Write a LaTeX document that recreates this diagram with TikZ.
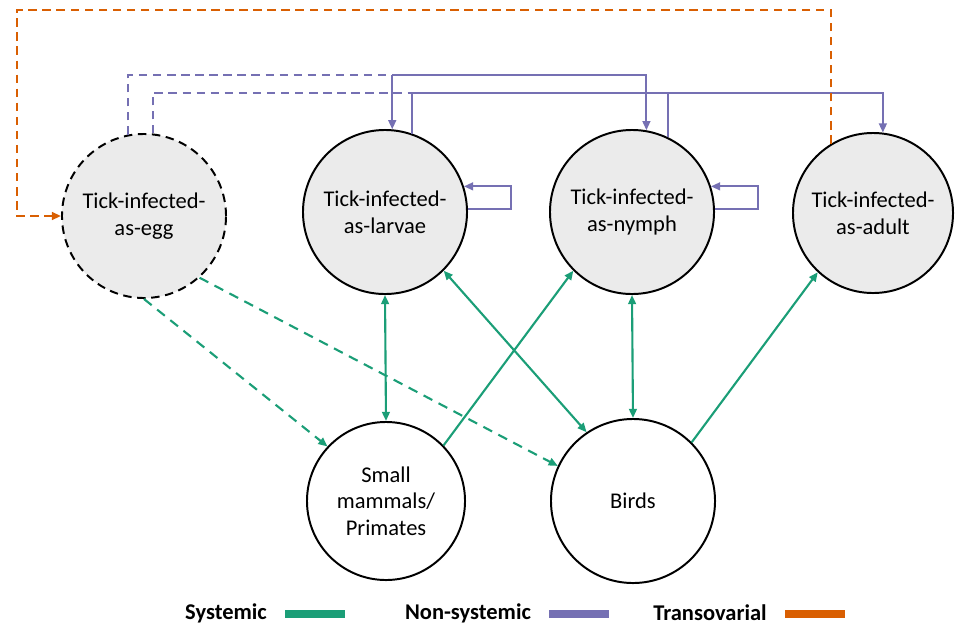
\documentclass[tikz,border=0pt]{standalone}
\usepackage{fontspec}
\setmainfont{Carlito}
\usetikzlibrary{arrows.meta}
\definecolor{sysgreen}{HTML}{1B9E77}
\definecolor{nonsyspurple}{HTML}{7570B3}
\definecolor{transorange}{HTML}{D95F02}
\definecolor{tickgray}{HTML}{EBEBEB}

\begin{document}
\begin{tikzpicture}[x=0.025cm,y=-0.025cm,
  >={Triangle[length=6.5pt,width=5.5pt]},
  stage/.style={circle,draw,line width=1.4pt,inner sep=0pt,align=center,
    minimum size=4.1cm,font=\fontsize{16}{19}\selectfont},
  tick/.style={stage,fill=tickgray},
  host/.style={stage,fill=white},
  sys/.style={draw=sysgreen,line width=1.5pt},
  nonsys/.style={draw=nonsyspurple,line width=1.4pt},
  trans/.style={draw=transorange,line width=1.5pt,dash pattern=on 6pt off 4pt},
  legendtext/.style={font=\bfseries\fontsize{16}{19}\selectfont}]
  \useasboundingbox (0,0) rectangle (966,626);

  % Tick stages
  \node[tick,dash pattern=on 6pt off 4pt] (egg) at (144,216) {Tick-infected-\\as-egg};
  \node[tick] (larvae) at (385,212) {Tick-infected-\\as-larvae};
  \node[tick] (nymph) at (632,212) {Tick-infected-\\as-nymph};
  \node[tick,minimum size=4cm] (adult) at (873,213) {Tick-infected-\\as-adult};

  % Hosts
  \node[host,minimum size=3.95cm] (mammals) at (386,501) {Small\\mammals/\\Primates};
  \node[host] (birds) at (633,501) {Birds};

  % Systemic transmission
  \draw[sys,<->] (larvae.south) -- (mammals.north);
  \draw[sys,<->] (nymph.south) -- (birds.north);
  \draw[sys,<->] (larvae.-45) -- (birds.124);
  \draw[sys,->] (mammals.44) -- (nymph.-135);
  \draw[sys,->] (birds.45) -- (adult.-133);
  \draw[sys,->,dash pattern=on 7pt off 5pt] (egg.-90) -- (mammals.137);
  \draw[sys,->,dash pattern=on 7pt off 5pt] (egg.-48) -- (birds.155);

  % Non-systemic transmission
  \coordinate (hi) at (0,75);
  \coordinate (lo) at (0,93);
  \coordinate (hiL) at (larvae.85 |- hi);
  \coordinate (loL) at (larvae.71 |- lo);
  \draw[nonsys,dash pattern=on 6pt off 4pt] (egg.101) |- (hiL);
  \draw[nonsys,dash pattern=on 6pt off 4pt] (egg.84) |- (loL);
  \draw[nonsys,->] (hiL) -- (larvae.85);
  \draw[nonsys,->] (hiL) -| (nymph.80);
  \draw[nonsys] (larvae.71) -- (loL);
  \draw[nonsys] (nymph.64) -- (nymph.64 |- lo);
  \draw[nonsys,->] (loL) -| (adult.83);
  \draw[nonsys,->] (larvae.2) -- ++(43,0) |- (larvae.18);
  \draw[nonsys,->] (nymph.2) -- ++(43,0) |- (nymph.18);

  % Transovarial transmission
  \coordinate (corner) at (17,10);
  \draw[trans,->] (adult.121) |- (corner) |- (egg.west);

  % Legend
  \node[legendtext] (lsys) at (226,613) {Systemic};
  \node[legendtext] (lnonsys) at (468,613) {Non-systemic};
  \node[legendtext] (ltrans) at (710,613) {Transovarial};
  \draw[sysgreen,line width=5.5pt] (285,614) -- (345,614);
  \draw[nonsyspurple,line width=5.5pt] (549,614) -- (609,614);
  \draw[transorange,line width=5.5pt] (785,614) -- (845,614);

\end{tikzpicture}
\end{document}
